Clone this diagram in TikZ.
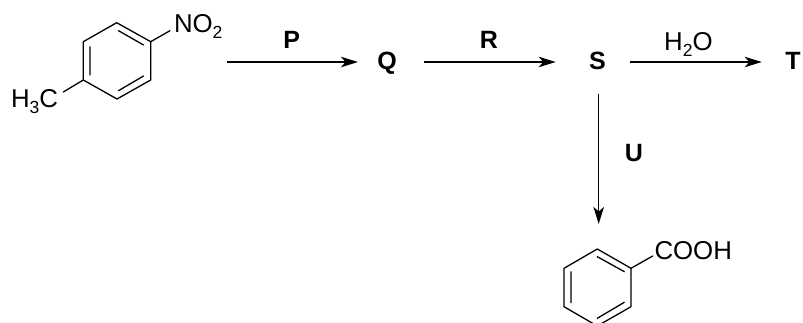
\documentclass[tikz,border=0pt]{standalone}
\usepackage{fontspec}
\setmainfont{Liberation Sans}
\usetikzlibrary{arrows.meta}
\newcommand{\chemsub}[1]{\raisebox{-5.5pt}{\fontsize{17.5}{17.5}\selectfont #1}}
\tikzset{
  x=1pt,y=-1pt,
  bond/.style={line width=1.3pt,line cap=round,line join=round},
  rxn/.style={line width=1.5pt,-{Stealth[length=17pt,width=10.5pt,inset=4.5pt]}},
  reagent/.style={font=\fontsize{25}{25}\selectfont\bfseries,inner sep=0pt,text height=17.9pt,text depth=0pt,anchor=center},
  chem/.style={font=\fontsize{25.8}{25.8}\selectfont,inner sep=0pt,anchor=base west},
}
\begin{document}
\begin{tikzpicture}
\useasboundingbox (0,0) rectangle (803,323);
% first ring
\coordinate (a1) at (116.7,22.7);
\coordinate (a2) at (150.7,41.7);
\coordinate (a3) at (150.7,80);
\coordinate (a4) at (117,99);
\coordinate (a5) at (83.3,80);
\coordinate (a6) at (83.3,41.7);
\draw[bond] (a1)--(a2)--(a3)--(a4)--(a5)--(a6)--cycle;
\coordinate (ai1) at (118.5,30.7); \coordinate (ai2) at (143.5,45);
\coordinate (ai3) at (118.5,90.7); \coordinate (ai4) at (143.5,76);
\coordinate (ai5) at (90,46.7);  \coordinate (ai6) at (90,75);
\draw[bond] (ai1)--(ai2) (ai3)--(ai4) (ai5)--(ai6);
\node[chem] (no2) at (173.8,33) {NO\chemsub{2}};
\node[chem] (h3c) at (10.8,108) {H\chemsub{3}C};
\coordinate (no2b) at (170,30.7);
\coordinate (h3cb) at (63.3,92);
\draw[bond] (a2)--(no2b) (a5)--(h3cb);
% labels
\node[reagent] (P) at (291.7,40) {P};
\node[reagent] (Q) at (387,61) {Q};
\node[reagent] (R) at (489,40) {R};
\node[reagent] (S) at (597.5,61) {S};
\node[reagent] (T) at (793,61) {T};
\node[reagent] (U) at (634,153) {U};
\node[chem] (water) at (664,50.7) {H\chemsub{2}O};
% second ring
\coordinate (b1) at (597.3,249);
\coordinate (b2) at (631,268.3);
\coordinate (b3) at (631,306.7);
\coordinate (b4) at (597.3,326);
\coordinate (b5) at (564,306.7);
\coordinate (b6) at (564,268.3);
\draw[bond] (b1)--(b2)--(b3)--(b4)--(b5)--(b6)--cycle;
\coordinate (bi1) at (597.3,256.7); \coordinate (bi2) at (624.3,271.7);
\coordinate (bi3) at (597.3,318.3); \coordinate (bi4) at (624.3,302.3);
\coordinate (bi5) at (571,271.7);   \coordinate (bi6) at (571,302.7);
\draw[bond] (bi1)--(bi2) (bi3)--(bi4) (bi5)--(bi6);
\node[chem] (cooh) at (654.3,259) {COOH};
\coordinate (coohb) at (652.7,256);
\draw[bond] (b2)--(coohb);
% arrows
\coordinate (start) at (227.3,62);
\draw[rxn] (start) -- ([xshift=-29pt,yshift=-1pt]Q.center);
\draw[rxn] ([xshift=37.3pt,yshift=-1pt]Q.center) -- ([xshift=-41.8pt,yshift=-1pt]S.center);
\draw[rxn] ([xshift=32.5pt,yshift=-1pt]S.center) -- ([xshift=-31.3pt,yshift=-1pt]T.center);
\draw[rxn] ([xshift=1.2pt,yshift=-33pt]S.center) -- ([xshift=1.4pt,yshift=25pt]b1);
\end{tikzpicture}
\end{document}
